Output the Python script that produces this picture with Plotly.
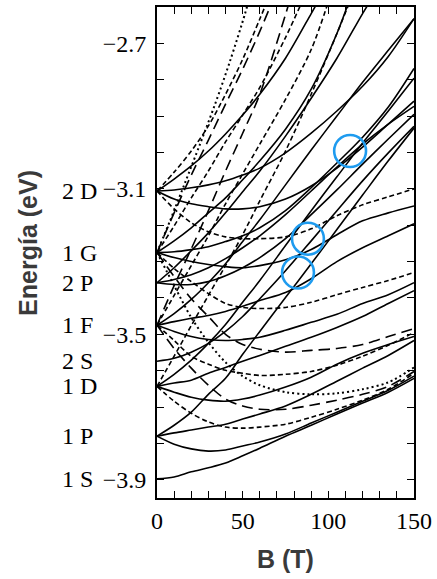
import plotly.graph_objects as go

# ---------------- data (B in tesla, E in eV) ----------------
B_GRID = [0, 10, 20, 30, 40, 50, 60, 75, 90, 105, 120, 135, 150]

# curves that reach B = 150 T (sampled on B_GRID)
E_1S    = [-3.897, -3.892, -3.878, -3.867, -3.854, -3.834, -3.813, -3.780, -3.750, -3.719, -3.689, -3.659, -3.621]
E_1P_m1 = [-3.780, -3.802, -3.815, -3.821, -3.818, -3.807, -3.796, -3.774, -3.744, -3.714, -3.684, -3.654, -3.615]
E_1P_0  = [-3.780, -3.771, -3.763, -3.755, -3.747, -3.733, -3.719, -3.697, -3.665, -3.629, -3.593, -3.558, -3.517]
E_1P_p1 = [-3.780, -3.750, -3.714, -3.665, -3.621, -3.555, -3.492, -3.399, -3.306, -3.212, -3.117, -3.023, -2.933]
E_1D_m2 = [-3.643, -3.684, -3.717, -3.741, -3.755, -3.758, -3.755, -3.747, -3.728, -3.706, -3.681, -3.651, -3.607]
E_1D_m1 = [-3.643, -3.659, -3.673, -3.681, -3.684, -3.678, -3.667, -3.645, -3.618, -3.582, -3.552, -3.528, -3.506]
E_1D_0  = [-3.643, -3.634, -3.626, -3.607, -3.591, -3.574, -3.558, -3.533, -3.508, -3.481, -3.451, -3.415, -3.380]
E_1D_p1 = [-3.643, -3.610, -3.571, -3.525, -3.473, -3.412, -3.352, -3.256, -3.160, -3.067, -2.974, -2.886, -2.796]
E_1F_m3 = [-3.475, -3.539, -3.593, -3.640, -3.678, -3.697, -3.706, -3.706, -3.695, -3.681, -3.665, -3.643, -3.602]
E_1F_m2 = [-3.475, -3.517, -3.560, -3.582, -3.599, -3.607, -3.613, -3.610, -3.602, -3.585, -3.560, -3.530, -3.495]
E_1F_m1 = [-3.475, -3.492, -3.506, -3.514, -3.517, -3.514, -3.508, -3.489, -3.467, -3.445, -3.415, -3.391, -3.358]
E_1F_0  = [-3.475, -3.465, -3.456, -3.448, -3.437, -3.423, -3.407, -3.385, -3.347, -3.300, -3.262, -3.229, -3.196]
E_1F_p1 = [-3.475, -3.443, -3.404, -3.358, -3.306, -3.245, -3.185, -3.089, -2.993, -2.900, -2.807, -2.719, -2.632]
E_1G_m4 = [-3.275, -3.366, -3.454, -3.522, -3.577, -3.615, -3.640, -3.659, -3.665, -3.662, -3.651, -3.632, -3.591]
E_1G_m3 = [-3.275, -3.341, -3.402, -3.451, -3.500, -3.528, -3.541, -3.549, -3.544, -3.539, -3.528, -3.506, -3.484]
E_1G_m2 = [-3.275, -3.319, -3.355, -3.388, -3.415, -3.426, -3.429, -3.426, -3.412, -3.391, -3.371, -3.352, -3.330]
E_1G_m1 = [-3.275, -3.289, -3.300, -3.308, -3.314, -3.317, -3.311, -3.295, -3.267, -3.226, -3.188, -3.166, -3.147]
E_1G_0  = [-3.275, -3.273, -3.267, -3.259, -3.245, -3.229, -3.207, -3.160, -3.097, -3.029, -2.958, -2.875, -2.769]
E_2S    = [-3.574, -3.566, -3.549, -3.525, -3.492, -3.451, -3.402, -3.325, -3.243, -3.160, -3.078, -3.001, -2.928]
E_2P_m1 = [-3.358, -3.363, -3.363, -3.355, -3.339, -3.317, -3.289, -3.237, -3.171, -3.103, -3.032, -2.963, -2.895]
E_2P_0  = [-3.358, -3.349, -3.336, -3.317, -3.292, -3.262, -3.229, -3.171, -3.106, -3.040, -2.977, -2.922, -2.873]
E_2D_m2 = [-3.106, -3.155, -3.193, -3.218, -3.232, -3.237, -3.237, -3.232, -3.210, -3.174, -3.144, -3.122, -3.100]
E_2D_m1 = [-3.106, -3.128, -3.141, -3.149, -3.155, -3.155, -3.149, -3.128, -3.092, -3.043, -2.985, -2.922, -2.859]
E_2D_0  = [-3.106, -3.103, -3.097, -3.089, -3.078, -3.062, -3.043, -3.001, -2.947, -2.886, -2.818, -2.736, -2.632]

# curves that leave through the top of the frame
B_1D_p2 = [0, 10, 20, 30, 40, 50, 60, 75, 90, 105, 113]
E_1D_p2 = [-3.643, -3.560, -3.476, -3.393, -3.311, -3.226, -3.133, -2.996, -2.840, -2.673, -2.58]
B_1F_p2 = [0, 10, 20, 30, 40, 50, 60, 75, 90, 100.4]
E_1F_p2 = [-3.475, -3.393, -3.311, -3.229, -3.141, -3.059, -2.977, -2.854, -2.717, -2.58]
B_1F_p3 = [0, 10, 20, 30, 40, 50, 60, 75, 77.6]
E_1F_p3 = [-3.475, -3.366, -3.265, -3.160, -3.051, -2.947, -2.840, -2.621, -2.58]
B_1G_p1 = [0, 10, 20, 30, 40, 50, 60, 75, 90, 105, 112.4]
E_1G_p1 = [-3.275, -3.243, -3.207, -3.166, -3.125, -3.075, -3.023, -2.936, -2.826, -2.673, -2.58]
B_1G_p2 = [0, 10, 20, 30, 40, 50, 60, 75, 85.2]
E_1G_p2 = [-3.275, -3.202, -3.125, -3.051, -2.971, -2.897, -2.821, -2.684, -2.58]
B_1G_p3 = [0, 10, 20, 30, 40, 50, 60, 67.7]
E_1G_p3 = [-3.275, -3.166, -3.062, -2.966, -2.867, -2.771, -2.667, -2.58]
B_1G_p4 = [0, 7.6, 16.3, 25.1, 33.9, 42.6, 51.4, 53.6]
E_1G_p4 = [-3.275, -3.188, -3.084, -2.977, -2.867, -2.749, -2.618, -2.58]
B_2P_p1 = [0, 10, 20, 30, 40, 50, 60, 75, 90, 105, 120, 125]
E_2P_p1 = [-3.358, -3.317, -3.270, -3.221, -3.166, -3.108, -3.051, -2.955, -2.851, -2.741, -2.618, -2.58]
B_2D_p1 = [0, 10, 20, 30, 40, 50, 60, 75, 90, 94.6]
E_2D_p1 = [-3.106, -3.073, -3.037, -2.996, -2.949, -2.897, -2.840, -2.741, -2.618, -2.58]
B_2D_p2 = [0, 10, 20, 30, 40, 50, 60, 64.7]
E_2D_p2 = [-3.106, -3.054, -2.996, -2.927, -2.840, -2.744, -2.633, -2.58]

# zero-field level labels
LEVEL_NAMES = ["2 D", "1 G", "2 P", "1 F", "2 S", "1 D", "1 P", "1 S"]
LEVEL_E     = [-3.105, -3.275, -3.358, -3.475, -3.574, -3.643, -3.780, -3.897]

# highlighted crossings (centres)
CIRCLE_B = [82.3, 88.1, 112.7]
CIRCLE_E = [-3.330, -3.237, -2.996]

Y_TICKS = [-3.9, -3.5, -3.1, -2.7]
Y_TICK_TEXT = ["\u22123.9", "\u22123.5", "\u22123.1", "\u22122.7"]
X_TICKS = [0, 50, 100, 150]

# ---------------- figure ----------------
DASH = {0: "solid", 1: "solid", 2: "5px,3px", 3: "11px,6px", 4: "2px,3px"}

curves = [
    (B_GRID, E_1S, 0), (B_GRID, E_1P_m1, 1), (B_GRID, E_1P_0, 0), (B_GRID, E_1P_p1, 1),
    (B_GRID, E_1D_m2, 2), (B_GRID, E_1D_m1, 1), (B_GRID, E_1D_0, 0), (B_GRID, E_1D_p1, 1),
    (B_1D_p2, E_1D_p2, 2),
    (B_GRID, E_1F_m3, 3), (B_GRID, E_1F_m2, 2), (B_GRID, E_1F_m1, 1), (B_GRID, E_1F_0, 0),
    (B_GRID, E_1F_p1, 1), (B_1F_p2, E_1F_p2, 2), (B_1F_p3, E_1F_p3, 3),
    (B_GRID, E_1G_m4, 4), (B_GRID, E_1G_m3, 3), (B_GRID, E_1G_m2, 2), (B_GRID, E_1G_m1, 1),
    (B_GRID, E_1G_0, 0), (B_1G_p1, E_1G_p1, 1), (B_1G_p2, E_1G_p2, 2), (B_1G_p3, E_1G_p3, 3),
    (B_1G_p4, E_1G_p4, 4),
    (B_GRID, E_2S, 0),
    (B_GRID, E_2P_m1, 1), (B_GRID, E_2P_0, 0), (B_2P_p1, E_2P_p1, 1),
    (B_GRID, E_2D_m2, 2), (B_GRID, E_2D_m1, 1), (B_GRID, E_2D_0, 0), (B_2D_p1, E_2D_p1, 1),
    (B_2D_p2, E_2D_p2, 2),
]

fig = go.Figure()
for bx, ey, am in curves:
    fig.add_trace(go.Scatter(
        x=bx, y=ey, mode="lines", cliponaxis=True,
        line=dict(color="black", width=2.0 if am == 4 else 1.6, dash=DASH[am],
                  shape="spline", smoothing=0.9),
        hoverinfo="skip", showlegend=False))

serif = "Liberation Serif, Times New Roman, serif"
sans = "Liberation Sans, Arial, sans-serif"

axis_common = dict(showline=True, linecolor="black", linewidth=2, mirror="ticks",
                   ticks="inside", ticklen=7, tickwidth=1.3, tickcolor="black",
                   showgrid=False, zeroline=False,
                   tickfont=dict(family=serif, size=24, color="black"))

fig.update_xaxes(range=[0, 150], tickvals=X_TICKS,
                 minor=dict(ticks="inside", ticklen=7, tickwidth=1.3, tickcolor="black",
                            dtick=10, tick0=0, showgrid=False),
                 **axis_common)
fig.update_yaxes(range=[-3.95, -2.6], tickvals=Y_TICKS, ticktext=Y_TICK_TEXT,
                 minor=dict(ticks="inside", ticklen=7, tickwidth=1.3, tickcolor="black",
                            dtick=0.1, tick0=-3.9, showgrid=False),
                 ticklabelstandoff=4,
                 **axis_common)

for name, e in zip(LEVEL_NAMES, LEVEL_E):
    fig.add_annotation(x=-0.378, xref="paper", y=e, yref="y", text=name, showarrow=False,
                       xanchor="left", yanchor="middle",
                       font=dict(family=serif, size=24, color="black"))

for cb, ce in zip(CIRCLE_B, CIRCLE_E):
    fig.add_shape(type="circle", xref="x", yref="y",
                  x0=cb - 9.3, x1=cb + 9.3, y0=ce - 0.044, y1=ce + 0.044,
                  line=dict(color="#1E9BEF", width=2.6))

fig.add_annotation(x=0.5, xref="paper", y=-0.125, yref="paper", text="<b>B (T)</b>",
                   showarrow=False, xanchor="center", yanchor="middle",
                   font=dict(family=sans, size=25, color="#3a3a3a"))
fig.add_annotation(x=-0.505, xref="paper", y=0.52, yref="paper", text="<b>Energía (eV)</b>",
                   showarrow=False, textangle=-90, xanchor="center", yanchor="middle",
                   font=dict(family=sans, size=25, color="#3a3a3a"))

fig.update_layout(width=437, height=579, margin=dict(l=157, r=23, t=5, b=81),
                  paper_bgcolor="white", plot_bgcolor="white", showlegend=False)

fig.write_html("out.html")
